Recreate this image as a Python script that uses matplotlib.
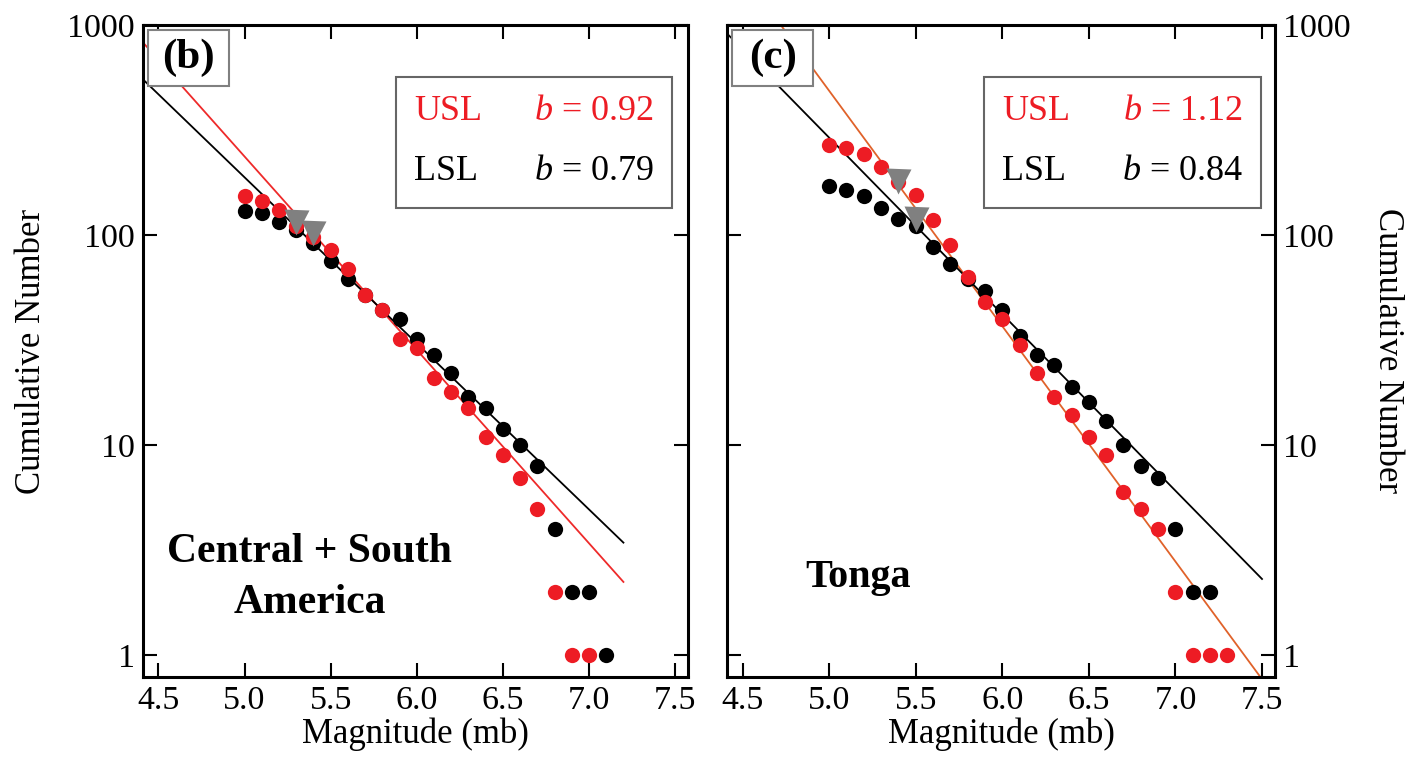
import numpy as np
import matplotlib
matplotlib.use("Agg")
import matplotlib.pyplot as plt

plt.rcParams['font.family'] = ['Liberation Serif', 'DejaVu Serif']
plt.rcParams['mathtext.fontset'] = 'custom'
plt.rcParams['mathtext.it'] = 'Liberation Serif:italic'
plt.rcParams['mathtext.rm'] = 'Liberation Serif'

# ---- data: panel (b) Central + South America ----
b_usl_mag = [5.0, 5.1, 5.2, 5.3, 5.4, 5.5, 5.6, 5.7, 5.8, 5.9, 6.0, 6.1, 6.2, 6.3, 6.4, 6.5, 6.6, 6.7, 6.8, 6.9, 7.0]
b_usl_num = [153, 146, 132, 110, 98, 85, 69, 52, 44, 32, 29, 21, 18, 15, 11, 9, 7, 5, 2, 1, 1]
b_lsl_mag = [5.0, 5.1, 5.2, 5.3, 5.4, 5.5, 5.6, 5.7, 5.8, 5.9, 6.0, 6.1, 6.2, 6.3, 6.4, 6.5, 6.6, 6.7, 6.8, 6.9, 7.0, 7.1]
b_lsl_num = [130, 128, 116, 106, 92, 75, 62, 52, 44, 40, 32, 27, 22, 17, 15, 12, 10, 8, 4, 2, 2, 1]
b_mc_mag = [5.3, 5.4]
b_mc_num = [115, 102]
b_usl_b, b_usl_a = 0.92, 6.974
b_lsl_b, b_lsl_a = 0.79, 6.225

# ---- data: panel (c) Tonga ----
c_usl_mag = [5.0, 5.1, 5.2, 5.3, 5.4, 5.5, 5.6, 5.7, 5.8, 5.9, 6.0, 6.1, 6.2, 6.3, 6.4, 6.5, 6.6, 6.7, 6.8, 6.9, 7.0, 7.1, 7.2, 7.3]
c_usl_num = [270, 261, 242, 210, 179, 155, 118, 90, 63, 48, 40, 30, 22, 17, 14, 11, 9, 6, 5, 4, 2, 1, 1, 1]
c_lsl_mag = [5.0, 5.1, 5.2, 5.3, 5.4, 5.5, 5.6, 5.7, 5.8, 5.9, 6.0, 6.1, 6.2, 6.3, 6.4, 6.5, 6.6, 6.7, 6.8, 6.9, 7.0, 7.1, 7.2]
c_lsl_num = [171, 164, 153, 134, 120, 110, 88, 73, 62, 54, 44, 33, 27, 24, 19, 16, 13, 10, 8, 7, 4, 2, 2]
c_mc_mag = [5.4, 5.5]
c_mc_num = [182, 119]
c_usl_b, c_usl_a = 1.12, 8.287
c_lsl_b, c_lsl_a = 0.84, 6.664

xticks = [4.5, 5.0, 5.5, 6.0, 6.5, 7.0, 7.5]
yticks = [1, 10, 100, 1000]

RED = '#ed1c24'
GREY = '#808080'

fig = plt.figure(figsize=(14.07, 7.6), dpi=100)
axL = fig.add_axes([143/1407, 1-677/760, (688-143)/1407, (677-25)/760])
axR = fig.add_axes([727/1407, 1-677/760, (1275-727)/1407, (677-25)/760])

def style(ax, right=False):
    ax.set_yscale('log')
    ax.set_xlim(4.41, 7.575)
    ax.set_ylim(0.79, 1000)
    ax.set_xticks(xticks)
    ax.set_xticklabels(['%.1f' % v for v in xticks])
    ax.set_yticks(yticks)
    ax.set_yticklabels([str(v) for v in yticks])
    ax.minorticks_off()
    ax.tick_params(which='major', direction='in', length=10, width=1.5,
                   labelsize=24.5, top=True, right=True, left=True, bottom=True,
                   labelleft=not right, labelright=right, pad=6)
    for s in ax.spines.values():
        s.set_linewidth(2.2)
    ax.set_xlabel('Magnitude (mb)', fontsize=25, labelpad=1)

def panel(ax, um, un, lm, ln, mm, mn, ub, ua, lb, la, uline_color, uend, lend,
          letter, ustr, lstr):
    xs = np.array([4.2, uend])
    ax.plot(xs, 10 ** (ua - ub * xs), color=uline_color, lw=1.3, zorder=2)
    xs = np.array([4.2, lend])
    ax.plot(xs, 10 ** (la - lb * xs), color='black', lw=1.3, zorder=2)
    ax.plot(lm, ln, 'o', color='black', ms=11, mec='none', zorder=3)
    ax.plot(um, un, 'o', color=RED, ms=11, mec='none', zorder=4)
    ax.plot(mm, mn, 'v', color=GREY, ms=18, mec='none', zorder=5)
    # letter box
    bx = plt.Rectangle((0.01, 0.907), 0.147, 0.085, transform=ax.transAxes,
                       fc='white', ec=GREY, lw=1.5, zorder=9)
    ax.add_patch(bx)
    ax.text(0.0835, 0.95, letter, transform=ax.transAxes, fontsize=31,
            fontweight='bold', ha='center', va='center', zorder=10)
    # legend box
    x0 = (0.465 if ax is axL else 0.469)
    rect = plt.Rectangle((x0, 0.72), 0.505, 0.20, transform=ax.transAxes,
                         fc='white', ec='#666666', lw=1.5, zorder=8)
    ax.add_patch(rect)
    ax.text(x0 + 0.033, 0.868, 'USL', transform=ax.transAxes, color=RED,
            fontsize=26, ha='left', va='center', zorder=9)
    ax.text(x0 + 0.472, 0.868, r'$b$ = ' + ustr, transform=ax.transAxes,
            color=RED, fontsize=26, ha='right', va='center', zorder=9)
    ax.text(x0 + 0.033, 0.776, 'LSL', transform=ax.transAxes, color='black',
            fontsize=26, ha='left', va='center', zorder=9)
    ax.text(x0 + 0.472, 0.776, r'$b$ = ' + lstr, transform=ax.transAxes,
            color='black', fontsize=26, ha='right', va='center', zorder=9)

style(axL)
style(axR, right=True)
panel(axL, b_usl_mag, b_usl_num, b_lsl_mag, b_lsl_num, b_mc_mag, b_mc_num,
      b_usl_b, b_usl_a, b_lsl_b, b_lsl_a, '#ee2a2a', 7.2, 7.2, '(b)', '0.92', '0.79')
panel(axR, c_usl_mag, c_usl_num, c_lsl_mag, c_lsl_num, c_mc_mag, c_mc_num,
      c_usl_b, c_usl_a, c_lsl_b, c_lsl_a, '#e0622a', 7.7, 7.5, '(c)', '1.12', '0.84')

axL.set_ylabel('Cumulative Number', fontsize=25, labelpad=14)
axR.yaxis.set_label_position('right')
axR.set_ylabel('Cumulative Number', fontsize=25, rotation=-90, labelpad=38)

axL.text(0.306, 0.152, 'Central + South\nAmerica', transform=axL.transAxes,
         fontsize=30, fontweight='bold', ha='center', va='center',
         linespacing=1.45)
axR.text(0.239, 0.153, 'Tonga', transform=axR.transAxes, fontsize=29,
         fontweight='bold', ha='center', va='center')

fig.savefig('out.png', dpi=100)
